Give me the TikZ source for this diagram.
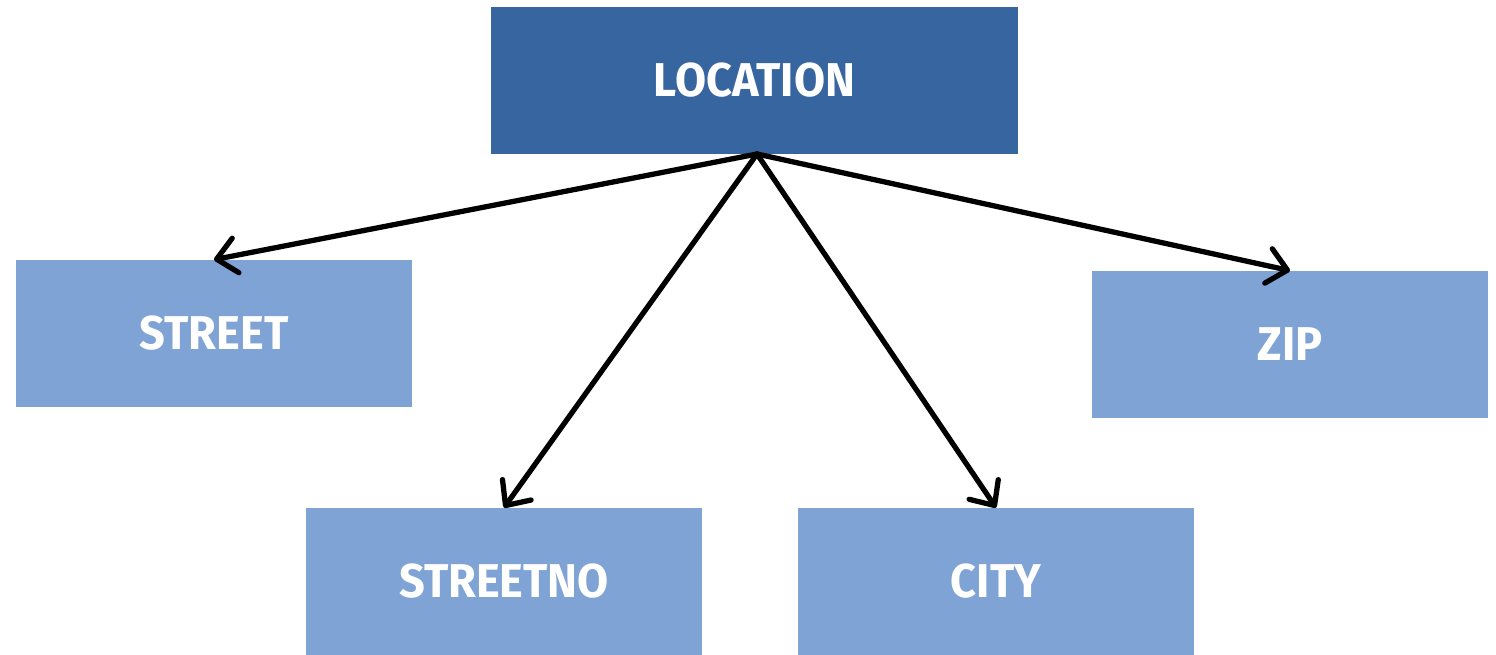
\documentclass[tikz,border=0pt]{standalone}
\usepackage{fontspec}
\setmainfont[FakeStretch=0.95]{Fira Sans}
\usetikzlibrary{arrows.meta}
\definecolor{darkbox}{HTML}{37659F}
\definecolor{lightbox}{HTML}{7FA3D5}
\tikzset{
  box/.style={draw=none, minimum width=7.92cm, minimum height=2.94cm, inner sep=0pt,
    text=white, font=\fontsize{27}{30}\selectfont\bfseries},
  topbox/.style={box, fill=darkbox, minimum width=10.54cm},
  leafbox/.style={box, fill=lightbox},
  conn/.style={line width=3pt, line cap=round, -{Straight Barb[round, length=11pt, width=20pt, line width=3pt]}}
}
\begin{document}
\begin{tikzpicture}[x=0.02cm, y=-0.02cm]
\useasboundingbox (0,0) rectangle (1496,655);
\node[topbox] (loc) at (754.5,80.5) {LOCATION};
\node[leafbox] (street) at (214,333.5) {STREET};
\node[leafbox] (streetno) at (504,581.5) {STREETNO};
\node[leafbox] (city) at (996,581.5) {CITY};
\node[leafbox] (zip) at (1290,344.5) {ZIP};
\coordinate (src) at (757,154);
\draw[conn] (src) -- (street.north);
\draw[conn] (src) -- (streetno.north);
\draw[conn] (src) -- (city.north);
\draw[conn] (src) -- (zip.north);
\end{tikzpicture}
\end{document}
